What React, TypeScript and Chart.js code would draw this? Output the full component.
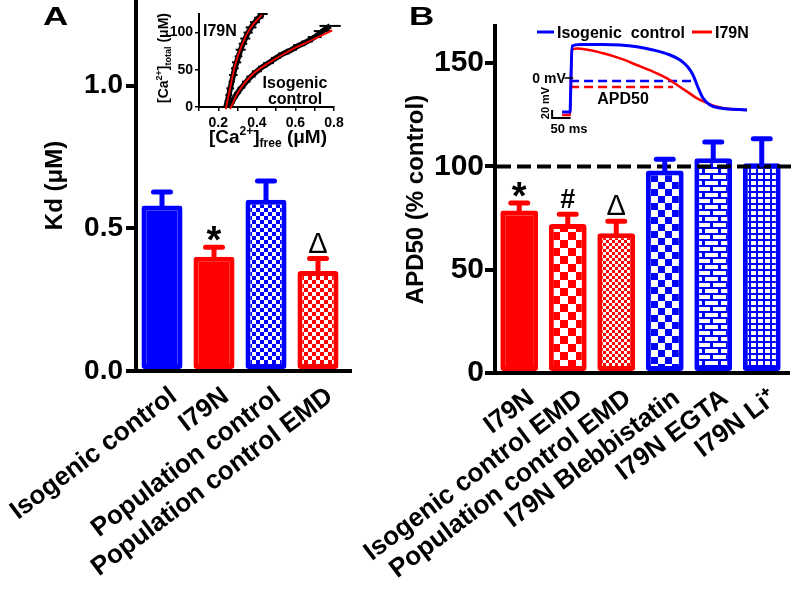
import React, { useEffect, useRef } from 'react';
import { Chart, registerables } from 'chart.js';

Chart.register(...registerables);

const FONT = '"Liberation Sans", Arial, Helvetica, sans-serif';
const BLUE = '#0000ff';
const RED = '#ff0000';
const BLACK = '#000000';

// ---------- Panel A : Kd ----------
const kdCategories = ['Isogenic control', 'I79N', 'Population control', 'Population control EMD'];
const kdMeans = [0.58, 0.4, 0.6, 0.35];
const kdSem = [0.047, 0.034, 0.066, 0.044];
const kdMarks = ['', '*', '', 'Δ'];
const kdMax = 1.3;
const kdStep = 0.5;

// ---------- Panel B : APD50 ----------
const apdCategories = ['I79N', 'Isogenic control EMD', 'Population control EMD', 'I79N Blebbistatin', 'I79N EGTA', 'I79N Li⁺'];
const apdMeans = [78.7, 72.1, 67.7, 98.1, 104.0, 101.6];
const apdSem = [3.6, 4.8, 5.8, 5.4, 7.8, 11.8];
const apdMarks = ['*', '#', 'Δ', '', '', ''];
const apdReference = 100;
const apdMax = 168;
const apdStep = 50;

// ---------- Inset A : Ca binding ----------
const i79nFree = [0.24, 0.248, 0.255, 0.262, 0.27, 0.278, 0.286, 0.295, 0.305, 0.316, 0.328, 0.34, 0.355, 0.37, 0.39, 0.41, 0.43];
const i79nTotal = [0, 8, 16, 25, 34, 43, 52, 60, 68, 77, 85, 92, 100, 107, 114, 120, 125];
const i79nFreeErr = [0.012, 0.015, 0.018, 0.02, 0.016, 0.022, 0.02, 0.024, 0.02, 0.026, 0.022, 0.026, 0.024, 0.028, 0.026, 0.024, 0.026];
const isoFree = [0.26, 0.27, 0.285, 0.3, 0.32, 0.345, 0.37, 0.4, 0.43, 0.46, 0.5, 0.54, 0.58, 0.62, 0.66, 0.7, 0.74, 0.78];
const isoTotal = [0, 6, 13, 19, 26, 34, 41, 48, 54, 59, 66, 72, 77, 83, 88, 94, 102, 109];
const isoFreeErr = [0.012, 0.015, 0.016, 0.018, 0.02, 0.022, 0.024, 0.026, 0.024, 0.028, 0.026, 0.03, 0.028, 0.032, 0.03, 0.036, 0.045, 0.055];
const i79nFitFree = [0.239, 0.261, 0.288, 0.322, 0.366, 0.427];
const i79nFitTotal = [-3, 25, 57, 83, 106, 124];
const isoFitFree = [0.261, 0.305, 0.374, 0.461, 0.565, 0.669, 0.791];
const isoFitTotal = [-3, 21, 43, 59, 75, 88, 103];

// ---------- Inset B : action potentials ----------
const isoApTime = [0, 21.6, 23, 27, 48.6, 111, 157, 202, 246, 292, 319, 340, 354, 367, 381, 400, 427, 500];
const isoApVm = [-85, -85, -40, 80, 84, 84, 82.5, 78, 70, 57.5, 45, 27.5, 7.5, -22.5, -50, -67.5, -75, -80];
const i79nApTime = [0, 21.6, 23, 26, 40, 111, 157, 202, 246, 284, 311, 338, 365, 392, 419, 454, 500];
const i79nApVm = [-92.5, -92.5, -50, 70, 74, 62, 49, 32.5, 16, -1, -17.5, -34, -51, -62.5, -72, -77.5, -80];
const isoApd50 = { start: 21.6, end: 364, vm: -7.5 };
const i79nApd50 = { start: 21.6, end: 300, vm: -22.5 };
const scaleBar = { t0: -27, ms: 50, v0: -100, mv: 20 };

function makeFill(kind: string, color: string): any {
  if (kind === 'solid') return color;
  const c = document.createElement('canvas');
  const g = c.getContext('2d') as CanvasRenderingContext2D;
  if (kind.startsWith('check')) {
    const s = parseInt(kind.slice(5), 10);
    c.width = 2 * s;
    c.height = 2 * s;
    g.fillStyle = '#fff';
    g.fillRect(0, 0, 2 * s, 2 * s);
    g.fillStyle = color;
    g.fillRect(0, 0, s, s);
    g.fillRect(s, s, s, s);
  } else if (kind === 'brick') {
    c.width = 16;
    c.height = 12;
    g.fillStyle = color;
    g.fillRect(0, 0, 16, 12);
    g.fillStyle = '#fff';
    g.fillRect(1, 1, 13, 4);
    g.fillRect(9, 7, 7, 4);
    g.fillRect(0, 7, 6, 4);
  } else if (kind === 'grid') {
    c.width = 7;
    c.height = 6;
    g.fillStyle = color;
    g.fillRect(0, 0, 7, 6);
    g.fillStyle = '#fff';
    g.fillRect(2, 1, 5, 4);
  }
  return g.createPattern(c, 'repeat');
}

type Run = { t: string; size: number; dy?: number; weight?: string };
function drawRuns(ctx: CanvasRenderingContext2D, runs: Run[], x: number, y: number, align: string, rot = 0, sx = 1) {
  ctx.save();
  ctx.translate(x, y);
  if (rot) ctx.rotate(rot);
  if (sx !== 1) ctx.scale(sx, 1);
  const widths = runs.map((r) => {
    ctx.font = `${r.weight || 'bold'} ${r.size}px ${FONT}`;
    return ctx.measureText(r.t).width;
  });
  const total = widths.reduce((a, b) => a + b, 0);
  let cx = align === 'center' ? -total / 2 : align === 'right' ? -total : 0;
  ctx.textAlign = 'left';
  ctx.textBaseline = 'alphabetic';
  ctx.fillStyle = BLACK;
  runs.forEach((r, i) => {
    ctx.font = `${r.weight || 'bold'} ${r.size}px ${FONT}`;
    ctx.fillText(r.t, cx, r.dy || 0);
    cx += widths[i];
  });
  ctx.restore();
}

const markFont: Record<string, string> = {
  '*': `bold 38px ${FONT}`,
  '#': `bold 27px ${FONT}`,
  'Δ': `normal 29px ${FONT}`,
};

const errorBarPlugin = {
  id: 'errbars',
  afterDatasetsDraw(chart: any, _args: any, opts: any) {
    const ctx = chart.ctx as CanvasRenderingContext2D;
    const meta = chart.getDatasetMeta(0);
    const values = chart.data.datasets[0].data as number[];
    const ys = chart.scales.y;
    const area = chart.chartArea;
    ctx.save();
    // extend the category axis line a little beyond the last bar, as in the source figure
    ctx.strokeStyle = BLACK;
    ctx.lineWidth = 4;
    ctx.beginPath();
    ctx.moveTo(area.right - 2, area.bottom);
    ctx.lineTo(opts.axisEnd, area.bottom);
    ctx.stroke();
    if (opts.reference !== undefined) {
      const yr = ys.getPixelForValue(opts.reference);
      ctx.lineWidth = 4;
      ctx.setLineDash([14, 6]);
      ctx.beginPath();
      ctx.moveTo(area.left + 2, yr);
      ctx.lineTo(chart.width, yr);
      ctx.stroke();
      ctx.setLineDash([]);
    }
    meta.data.forEach((bar: any, i: number) => {
      const v = values[i];
      const e = opts.errors[i];
      const x = bar.x;
      const yBar = ys.getPixelForValue(v);
      const yTop = ys.getPixelForValue(v + e);
      ctx.strokeStyle = opts.colors[i];
      ctx.lineWidth = 5;
      ctx.lineCap = 'round';
      ctx.beginPath();
      ctx.moveTo(x, yBar + 2);
      ctx.lineTo(x, yTop);
      ctx.moveTo(x - 8.5, yTop);
      ctx.lineTo(x + 8.5, yTop);
      ctx.stroke();
      const m = opts.marks[i];
      if (m) {
        ctx.font = markFont[m];
        ctx.fillStyle = BLACK;
        ctx.textAlign = 'center';
        ctx.textBaseline = 'alphabetic';
        const mt = ctx.measureText(m);
        ctx.fillText(m, x, yTop - 6 - mt.actualBoundingBoxDescent);
      }
    });
    if (opts.letter) {
      drawRuns(ctx, [{ t: opts.letter.text, size: 25 }], opts.letter.x, opts.letter.y, 'left', 0, 1.4);
    }
    ctx.restore();
  },
};

function barOptions(cfg: any) {
  return {
    responsive: false,
    animation: false,
    devicePixelRatio: 1,
    layout: { padding: cfg.padding },
    plugins: {
      legend: { display: false },
      tooltip: { enabled: false },
      errbars: cfg.errbars,
    },
    scales: {
      x: {
        grid: { display: false },
        border: { display: true, color: BLACK, width: 4 },
        ticks: {
          color: BLACK,
          font: { family: FONT, size: 26, weight: 'bold' },
          minRotation: 37,
          maxRotation: 37,
          autoSkip: false,
          labelOffset: cfg.labelOffset,
          padding: 2,
        },
        afterFit: (s: any) => {
          s.height = cfg.xHeight;
          s.paddingLeft = 0;
          s.paddingRight = 0;
        },
      },
      y: {
        min: 0,
        max: cfg.max,
        grid: { drawOnChartArea: false, drawTicks: true, tickLength: 10, lineWidth: 4, color: BLACK },
        border: { display: true, color: BLACK, width: 4 },
        ticks: {
          stepSize: cfg.step,
          includeBounds: false,
          color: BLACK,
          padding: cfg.tickPad,
          font: { family: FONT, size: cfg.tickSize, weight: 'bold' },
          callback: cfg.tickFormat,
        },
        title: {
          display: true,
          text: cfg.title,
          color: BLACK,
          font: { family: FONT, size: 24, weight: 'bold' },
          padding: { top: cfg.titlePad, bottom: 0 },
        },
        afterFit: (s: any) => {
          s.width = cfg.yWidth;
          s.paddingTop = 0;
          s.paddingBottom = 0;
        },
      },
    },
  };
}

const insetAText = {
  id: 'insetAText',
  afterDraw(chart: any) {
    const ctx = chart.ctx as CanvasRenderingContext2D;
    const ox = 140;
    drawRuns(ctx, [
      { t: '[Ca', size: 19 },
      { t: '2+', size: 12, dy: -8 },
      { t: ']', size: 19 },
      { t: 'free', size: 12, dy: 4 },
      { t: ' (μM)', size: 19 },
    ], 268 - ox, 143, 'center');
    drawRuns(ctx, [
      { t: '[Ca', size: 14 },
      { t: '2+', size: 9, dy: -6 },
      { t: ']', size: 14 },
      { t: 'total', size: 9, dy: 3 },
      { t: ' (μM)', size: 14 },
    ], 168 - ox, 58, 'center', -Math.PI / 2);
    drawRuns(ctx, [{ t: 'I79N', size: 16 }], 203 - ox, 36, 'left');
    drawRuns(ctx, [{ t: 'Isogenic', size: 16 }], 295 - ox, 88, 'center');
    drawRuns(ctx, [{ t: 'control', size: 16 }], 295 - ox, 104, 'center');
  },
};

const insetAErr = {
  id: 'insetAErr',
  beforeDatasetsDraw(chart: any, _a: any, opts: any) {
    const ctx = chart.ctx as CanvasRenderingContext2D;
    const xs = chart.scales.x;
    const ys = chart.scales.y;
    ctx.save();
    ctx.strokeStyle = BLACK;
    ctx.lineWidth = 2;
    opts.sets.forEach((s: any) => {
      s.x.forEach((xv: number, i: number) => {
        const y = ys.getPixelForValue(s.y[i]);
        ctx.beginPath();
        ctx.moveTo(xs.getPixelForValue(xv - s.e[i]), y);
        ctx.lineTo(xs.getPixelForValue(xv + s.e[i]), y);
        ctx.stroke();
      });
    });
    ctx.restore();
  },
};

const insetBText = {
  id: 'insetBText',
  afterDraw(chart: any) {
    const ctx = chart.ctx as CanvasRenderingContext2D;
    const ox = 520;
    const oy = 15;
    const ys = chart.scales.y;
    const xs = chart.scales.x;
    ctx.save();
    ctx.lineWidth = 3;
    ctx.strokeStyle = BLUE;
    ctx.beginPath();
    ctx.moveTo(537 - ox, 32 - oy);
    ctx.lineTo(554 - ox, 32 - oy);
    ctx.stroke();
    ctx.strokeStyle = RED;
    ctx.beginPath();
    ctx.moveTo(692 - ox, 32 - oy);
    ctx.lineTo(712 - ox, 32 - oy);
    ctx.stroke();
    const y0 = ys.getPixelForValue(0);
    ctx.strokeStyle = BLACK;
    ctx.lineWidth = 1.5;
    ctx.beginPath();
    ctx.moveTo(xs.getPixelForValue(6), y0);
    ctx.lineTo(xs.getPixelForValue(30), y0);
    ctx.stroke();
    ctx.restore();
    drawRuns(ctx, [{ t: 'Isogenic  control', size: 16 }], 557 - ox, 38 - oy, 'left');
    drawRuns(ctx, [{ t: 'I79N', size: 16 }], 715 - ox, 38 - oy, 'left');
    drawRuns(ctx, [{ t: '0 mV', size: 14 }], xs.getPixelForValue(10), y0 + 5, 'right');
    drawRuns(ctx, [{ t: 'APD50', size: 16 }], 623 - ox, 104 - oy, 'center');
    drawRuns(ctx, [{ t: '50 ms', size: 13 }], 569 - ox, 133 - oy, 'center');
    drawRuns(ctx, [{ t: '20 mV', size: 11 }], 549 - ox, 103 - oy, 'center', -Math.PI / 2);
  },
};

export default function App() {
  const aRef = useRef<HTMLCanvasElement>(null);
  const bRef = useRef<HTMLCanvasElement>(null);
  const iaRef = useRef<HTMLCanvasElement>(null);
  const ibRef = useRef<HTMLCanvasElement>(null);

  useEffect(() => {
    const charts: Chart[] = [];
    const kdColors = [BLUE, RED, BLUE, RED];
    const kdKinds = ['solid', 'solid', 'check4', 'check4'];
    const apdColors = [RED, RED, RED, BLUE, BLUE, BLUE];
    const apdKinds = ['solid', 'check8', 'check3', 'check7', 'brick', 'grid'];

    charts.push(
      new Chart(aRef.current as HTMLCanvasElement, {
        type: 'bar',
        data: {
          labels: kdCategories,
          datasets: [{
            data: kdMeans,
            backgroundColor: kdKinds.map((k, i) => makeFill(k, kdColors[i])),
            borderColor: kdColors,
            borderWidth: 5,
            borderSkipped: false,
            borderRadius: 3,
            barPercentage: 0.79,
            categoryPercentage: 1,
          }],
        },
        options: barOptions({
          padding: { left: 0, top: 0, right: 791 - 344, bottom: 0 },
          errbars: { errors: kdSem, colors: kdColors, marks: kdMarks, axisEnd: 352, letter: { text: 'A', x: 43, y: 25 } },
          labelOffset: 12,
          xHeight: 224,
          max: kdMax,
          step: kdStep,
          tickPad: 3,
          tickSize: 28,
          tickFormat: (v: any) => Number(v).toFixed(1),
          title: 'Kd (μM)',
          titlePad: 41,
          yWidth: 136,
        }) as any,
        plugins: [errorBarPlugin],
      })
    );

    charts.push(
      new Chart(bRef.current as HTMLCanvasElement, {
        type: 'bar',
        data: {
          labels: apdCategories,
          datasets: [{
            data: apdMeans,
            backgroundColor: apdKinds.map((k, i) => makeFill(k, apdColors[i])),
            borderColor: apdColors,
            borderWidth: 5,
            borderSkipped: false,
            borderRadius: 3,
            barPercentage: 0.78,
            categoryPercentage: 1,
          }],
        },
        options: barOptions({
          padding: { left: 390, top: 26, right: 5, bottom: 0 },
          errbars: { errors: apdSem, colors: apdColors, marks: apdMarks, reference: apdReference, axisEnd: 790, letter: { text: 'B', x: 409, y: 25 } },
          labelOffset: 12,
          xHeight: 222,
          max: apdMax,
          step: apdStep,
          tickPad: 1,
          tickSize: 30,
          tickFormat: (v: any) => String(v),
          title: 'APD50 (% control)',
          titlePad: 12,
          yWidth: 105,
        }) as any,
        plugins: [errorBarPlugin],
      })
    );

    const pts = (xs: number[], ys: number[]) => xs.map((x, i) => ({ x, y: ys[i] }));

    charts.push(
      new Chart(iaRef.current as HTMLCanvasElement, {
        type: 'line',
        data: {
          datasets: [
            { data: pts(i79nFitFree, i79nFitTotal), borderColor: RED, borderWidth: 1.8, pointRadius: 0, cubicInterpolationMode: 'monotone', clip: false } as any,
            { data: pts(isoFitFree, isoFitTotal), borderColor: RED, borderWidth: 1.8, pointRadius: 0, cubicInterpolationMode: 'monotone', clip: false } as any,
            { data: pts(i79nFree, i79nTotal), borderColor: BLACK, borderWidth: 5.5, pointRadius: 0, tension: 0.2 },
            { data: pts(isoFree, isoTotal), borderColor: BLACK, borderWidth: 5.5, pointRadius: 0, tension: 0.2 },
          ],
        },
        options: {
          responsive: false,
          animation: false,
          devicePixelRatio: 1,
          layout: { padding: { left: 0, top: 14, right: 16, bottom: 0 } },
          plugins: {
            legend: { display: false },
            tooltip: { enabled: false },
            insetAErr: {
              sets: [
                { x: i79nFree, y: i79nTotal, e: i79nFreeErr },
                { x: isoFree, y: isoTotal, e: isoFreeErr },
              ],
            },
          } as any,
          scales: {
            x: {
              type: 'linear',
              min: 0.1,
              max: 0.8,
              grid: { drawOnChartArea: false, tickLength: 4, lineWidth: 1.5, color: BLACK },
              border: { display: true, color: BLACK, width: 2 },
              ticks: {
                stepSize: 0.1,
                color: BLACK,
                padding: 4,
                maxRotation: 0,
                autoSkip: false,
                font: { family: FONT, size: 14, weight: 'bold' },
                callback: (v: any) => {
                  const r = Math.round(Number(v) * 10);
                  return r % 2 === 0 ? (r / 10).toFixed(1) : '';
                },
              },
              afterFit: (s: any) => {
                s.height = 43;
                s.paddingLeft = 0;
                s.paddingRight = 0;
              },
            },
            y: {
              min: 0,
              max: 125,
              grid: { drawOnChartArea: false, tickLength: 4, lineWidth: 1.5, color: BLACK },
              border: { display: true, color: BLACK, width: 2 },
              ticks: {
                stepSize: 25,
                color: BLACK,
                padding: 2,
                font: { family: FONT, size: 14, weight: 'bold' },
                callback: (v: any) => (Number(v) % 50 === 0 ? String(v) : ''),
              },
              afterFit: (s: any) => {
                s.width = 59;
                s.paddingTop = 0;
                s.paddingBottom = 0;
              },
            },
          },
        } as any,
        plugins: [insetAErr, insetAText],
      })
    );

    charts.push(
      new Chart(ibRef.current as HTMLCanvasElement, {
        type: 'line',
        data: {
          datasets: [
            { data: pts(isoApTime, isoApVm), borderColor: BLUE, borderWidth: 3, pointRadius: 0, cubicInterpolationMode: 'monotone', clip: false } as any,
            { data: pts(i79nApTime, i79nApVm), borderColor: RED, borderWidth: 2.5, pointRadius: 0, cubicInterpolationMode: 'monotone', clip: false } as any,
            { data: [{ x: isoApd50.start, y: isoApd50.vm }, { x: isoApd50.end, y: isoApd50.vm }], borderColor: BLUE, borderWidth: 2.5, borderDash: [9, 5], pointRadius: 0, clip: false } as any,
            { data: [{ x: i79nApd50.start, y: i79nApd50.vm }, { x: i79nApd50.end, y: i79nApd50.vm }], borderColor: RED, borderWidth: 2.5, borderDash: [9, 5], pointRadius: 0, clip: false } as any,
            {
              data: [
                { x: scaleBar.t0, y: scaleBar.v0 + scaleBar.mv },
                { x: scaleBar.t0, y: scaleBar.v0 },
                { x: scaleBar.t0 + scaleBar.ms, y: scaleBar.v0 },
              ],
              borderColor: BLACK,
              borderWidth: 2,
              pointRadius: 0,
              clip: false,
            } as any,
          ],
        },
        options: {
          responsive: false,
          animation: false,
          devicePixelRatio: 1,
          layout: { padding: { left: 31, top: 23, right: 13, bottom: 22 } },
          plugins: { legend: { display: false }, tooltip: { enabled: false } },
          scales: {
            x: { type: 'linear', min: -30, max: 500, display: false },
            y: { min: -100, max: 100, display: false },
          },
        } as any,
        plugins: [insetBText],
      })
    );

    return () => charts.forEach((c) => c.destroy());
  }, []);

  const abs = (l: number, t: number, w: number, h: number): React.CSSProperties => ({
    position: 'absolute', left: l, top: t, width: w, height: h,
  });

  return (
    <div style={{ position: 'absolute', left: 0, top: 0, width: 791, height: 595, background: '#fff', overflow: 'hidden' }}>
      <canvas ref={aRef} width={791} height={595} style={abs(0, 0, 791, 595)} />
      <canvas ref={bRef} width={791} height={595} style={abs(0, 0, 791, 595)} />
      <canvas ref={iaRef} width={210} height={150} style={abs(140, 0, 210, 150)} />
      <canvas ref={ibRef} width={240} height={125} style={abs(520, 15, 240, 125)} />
    </div>
  );
}
